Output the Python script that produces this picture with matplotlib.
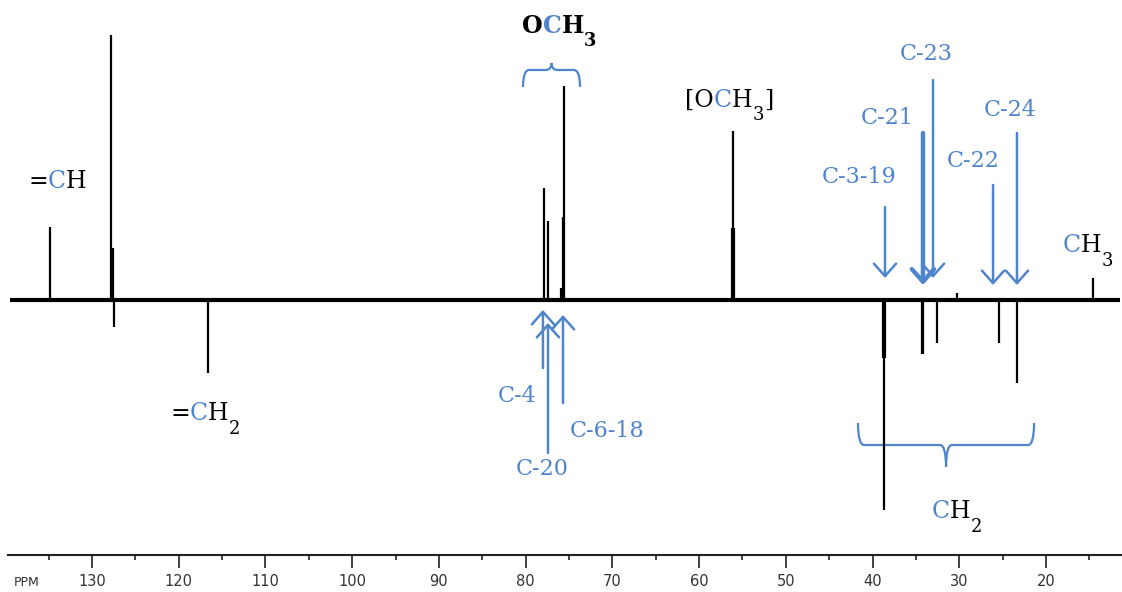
import matplotlib
matplotlib.use('Agg')
import matplotlib.pyplot as plt
from matplotlib.path import Path
from matplotlib.patches import PathPatch

blue = '#4f85cc'

# spectrum lines (ppm, intensity; + up / - down)
peak_ppm = [134.84, 127.81, 127.58, 127.46, 116.62,
            77.88, 77.42, 75.92, 75.69, 75.57,
            56.20, 56.08, 55.96,
            38.79, 38.67, 38.56, 34.29, 34.18, 32.56, 30.25, 25.41, 23.34, 14.57]
peak_height = [73, 265, 52, -27, -73,
               112, 79, 12, 83, 214,
               72, 169, 72,
               -58, -210, -58, -54, -54, -43, 7, -43, -83, 22]

# ppm scale
major_ticks = [130, 120, 110, 100, 90, 80, 70, 60, 50, 40, 30, 20]
minor_ticks = [135, 125, 115, 105, 95, 85, 75, 65, 55, 45, 35, 25, 15]

# carbon labels and arrows
c_labels = ['C-3-19', 'C-21', 'C-23', 'C-22', 'C-24', 'C-4', 'C-6-18', 'C-20']
c_label_ppm = [41.55, 38.33, 33.83, 28.41, 24.14, 81.0, 70.61, 78.11]
c_label_y = [123, 182, 246, 139, 190, -96, -131, -169]
arrow_ppm = [38.56, 34.18, 33.02, 26.1, 23.34, 78.0, 75.69, 77.42]
arrow_tail = [93, 167, 220, 115, 167, -68, -103, -153]
arrow_tip = [22, 15, 22, 15, 15, -10, -15, -23]
arrow_lw = [1.8, 3.2, 1.8, 1.8, 1.8, 1.8, 1.8, 1.8]

fig = plt.figure(figsize=(11.22, 5.92), dpi=100)
ax = fig.add_axes([0, 0, 1, 1])
ax.set_xlim(140.61, 11.23)
ax.set_ylim(-292, 300)

# baseline + peaks
ax.plot([139.46, 11.46], [0, 0], color='black', lw=3, solid_capstyle='butt')
ax.vlines(peak_ppm, 0, peak_height, color='black', lw=1.6)

# ppm axis at the bottom
for s in ['top', 'left', 'right']:
    ax.spines[s].set_visible(False)
ax.spines['bottom'].set_position(('data', -255))
ax.spines['bottom'].set_bounds(139.69, 11.23)
ax.spines['bottom'].set_linewidth(1.5)
ax.spines['bottom'].set_color('#222222')
ax.set_yticks([])
ax.set_xticks(major_ticks)
ax.set_xticks(minor_ticks, minor=True)
ax.tick_params(axis='x', which='major', direction='out', length=9.5, width=1.2,
               color='#222222', labelsize=10.5, pad=4, labelcolor='#333333')
ax.tick_params(axis='x', which='minor', direction='out', length=3.8, width=1.2,
               color='#222222')
for lbl in ax.get_xticklabels():
    lbl.set_family('DejaVu Sans')
ax.text(137.5, -283, 'PPM', fontsize=9, family='DejaVu Sans', color='#333333',
        ha='center', va='center')


def chem(x, y, parts, size=17, weight='normal'):
    # chain coloured pieces of a formula left to right; '_' marks a subscript
    s, c = parts[0]
    t = ax.text(x, y, s, color=c, fontsize=size, family='DejaVu Serif',
                weight=weight, ha='left', va='baseline')
    drop = 0
    for s, c in parts[1:]:
        if s.startswith('_'):
            t = ax.annotate(s[1:], xy=(1, 0), xycoords=t, xytext=(0, -9),
                            textcoords='offset points', color=c, fontsize=size * 0.76,
                            family='DejaVu Serif', weight=weight, ha='left', va='bottom')
            drop = 9
        else:
            t = ax.annotate(s, xy=(1, 0), xycoords=t, xytext=(0, drop),
                            textcoords='offset points', color=c, fontsize=size,
                            family='DejaVu Serif', weight=weight, ha='left', va='bottom')
            drop = 0


k = 'black'
chem(137.38, 112, [('=', k), ('C', blue), ('H', k)])
chem(121.0, -120, [('=', k), ('C', blue), ('H', k), ('_2', k)])
chem(61.62, 193, [('[O', k), ('C', blue), ('H', k), ('_3', k), (']', k)])
chem(80.4, 267, [('O', k), ('C', blue), ('H', k), ('_3', k)], weight='bold')
chem(18.03, 48, [('C', blue), ('H', k), ('_3', k)])
chem(33.14, -218, [('C', blue), ('H', k), ('_2', k)])

for txt, x, y in zip(c_labels, c_label_ppm, c_label_y):
    ax.text(x, y, txt, color=blue, fontsize=16, family='DejaVu Serif',
            ha='center', va='center')

for x, y0, y1, w in zip(arrow_ppm, arrow_tail, arrow_tip, arrow_lw):
    ax.annotate('', xy=(x, y1), xytext=(x, y0),
                arrowprops=dict(arrowstyle='->,head_length=0.45,head_width=0.4',
                                mutation_scale=20, color=blue, lw=w,
                                shrinkA=0, shrinkB=0))


def brace(x0, x1, yh, yend, ytip, rx=0.7):
    # curly bracket between x0 and x1 (ppm), ends at yend, tip at ytip
    sgn = 1 if x1 > x0 else -1
    xc = (x0 + x1) / 2
    r = rx * sgn
    verts = [(x0, yend), (x0, yh), (x0 + r, yh),
             (xc - r, yh), (xc, yh), (xc, ytip),
             (xc, yh), (xc + r, yh),
             (x1 - r, yh), (x1, yh), (x1, yend)]
    codes = [Path.MOVETO, Path.CURVE3, Path.CURVE3,
             Path.LINETO, Path.CURVE3, Path.CURVE3,
             Path.CURVE3, Path.CURVE3,
             Path.LINETO, Path.CURVE3, Path.CURVE3]
    ax.add_patch(PathPatch(Path(verts, codes), fill=False, ec=blue, lw=1.6))


brace(80.30, 73.73, 230, 213, 237)
brace(41.67, 21.37, -145, -123, -167)

fig.savefig('out.png', dpi=100)
